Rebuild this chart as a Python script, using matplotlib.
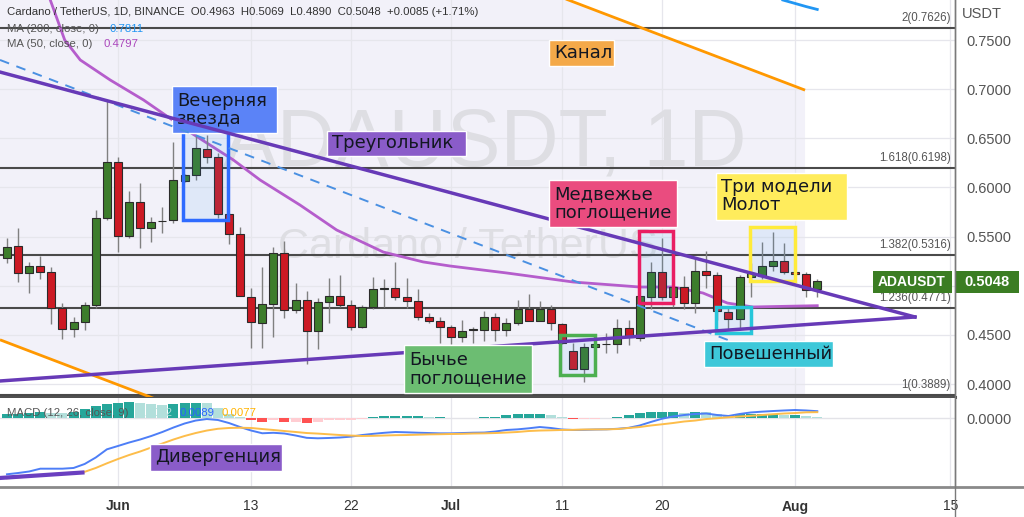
import numpy as np
import matplotlib.pyplot as plt
from matplotlib.patches import Rectangle
from matplotlib.lines import Line2D

plt.rcParams['font.family'] = ['Liberation Sans', 'DejaVu Sans']

W, H = 1024, 517

# day 0 = 1 Jun 2022, daily candles ADA/USDT
days = np.arange(-10, 64)
opens = [0.5279, 0.5404, 0.5127, 0.5204, 0.5137, 0.4771, 0.4557, 0.4634, 0.4801, 0.5686,
         0.6262, 0.5506, 0.5855, 0.5584, 0.5655, 0.5669, 0.6069, 0.6127, 0.6391, 0.6307,
         0.5730, 0.5523, 0.4889, 0.4624, 0.4811, 0.5336, 0.4753, 0.4855, 0.4540, 0.4832,
         0.4899, 0.4804, 0.4583, 0.4781, 0.4970, 0.4974, 0.4883, 0.4845, 0.4685, 0.4644,
         0.4583, 0.4476, 0.4547, 0.4550, 0.4685, 0.4550, 0.4618, 0.4760, 0.4644, 0.4760,
         0.4611, 0.4336, 0.4153, 0.4374, 0.4404, 0.4407, 0.4567, 0.4465, 0.4889, 0.5143,
         0.4889, 0.4984, 0.4821, 0.5153, 0.5106, 0.4736, 0.4662, 0.5092, 0.5099, 0.5204,
         0.5255, 0.5143, 0.5120, 0.4963]
highs = [0.5486, 0.5587, 0.5245, 0.5303, 0.5194, 0.4828, 0.4685, 0.4838, 0.5771, 0.6890,
         0.6313, 0.5964, 0.6042, 0.5702, 0.5804, 0.6465, 0.6140, 0.6534, 0.6534, 0.6347,
         0.5740, 0.5601, 0.4974, 0.5194, 0.5397, 0.5458, 0.5025, 0.4950, 0.4872, 0.5076,
         0.5109, 0.4850, 0.4800, 0.5086, 0.5066, 0.5245, 0.5076, 0.4964, 0.4727, 0.4685,
         0.4600, 0.4652, 0.4580, 0.4746, 0.4720, 0.4670, 0.4855, 0.4916, 0.4840, 0.4800,
         0.4625, 0.4421, 0.4414, 0.4420, 0.4519, 0.4659, 0.4650, 0.4900, 0.5245, 0.5483,
         0.5050, 0.5099, 0.5269, 0.5357, 0.5143, 0.4781, 0.5109, 0.5235, 0.5448, 0.5550,
         0.5432, 0.5160, 0.5143, 0.5069]
lows = [0.5231, 0.5038, 0.4923, 0.5069, 0.4611, 0.4455, 0.4476, 0.4550, 0.4771, 0.5670,
        0.5346, 0.5486, 0.5381, 0.5448, 0.5533, 0.5642, 0.6060, 0.6076, 0.6246, 0.5686,
        0.5422, 0.4896, 0.4364, 0.4364, 0.4482, 0.4669, 0.4720, 0.4204, 0.4357, 0.4618,
        0.4780, 0.4550, 0.4567, 0.4760, 0.4781, 0.4855, 0.4774, 0.4652, 0.4618, 0.4414,
        0.4407, 0.4428, 0.4421, 0.4441, 0.4441, 0.4489, 0.4598, 0.4650, 0.4640, 0.4550,
        0.4407, 0.4153, 0.4024, 0.4350, 0.4313, 0.4313, 0.4400, 0.4440, 0.4760, 0.4855,
        0.4781, 0.4760, 0.4726, 0.4974, 0.4652, 0.4550, 0.4550, 0.4883, 0.5066, 0.5147,
        0.5120, 0.5100, 0.4883, 0.4890]
closes = [0.5397, 0.5127, 0.5204, 0.5137, 0.4771, 0.4557, 0.4634, 0.4801, 0.5686, 0.6262,
          0.5506, 0.5855, 0.5584, 0.5652, 0.5662, 0.6076, 0.6127, 0.6398, 0.6307, 0.5730,
          0.5523, 0.4896, 0.4634, 0.4811, 0.5336, 0.4753, 0.4855, 0.4540, 0.4832, 0.4899,
          0.4804, 0.4577, 0.4781, 0.4964, 0.4974, 0.4883, 0.4845, 0.4679, 0.4644, 0.4583,
          0.4476, 0.4543, 0.4550, 0.4685, 0.4550, 0.4618, 0.4760, 0.4644, 0.4760, 0.4618,
          0.4421, 0.4153, 0.4380, 0.4404, 0.4407, 0.4567, 0.4482, 0.4896, 0.5143, 0.4889,
          0.4984, 0.4821, 0.5153, 0.5106, 0.4746, 0.4662, 0.5092, 0.5133, 0.5204, 0.5255,
          0.5143, 0.5120, 0.4957, 0.5048]

ma50_days = [-6.1, -4.8, -3.4, -0.7, 2.3, 6.6, 10.4, 12.8, 16.4, 19.7, 23.9, 27.5, 29.9,
             35, 41, 47, 50, 52.7, 54.9, 57.2, 63]
ma50 = [0.7907, 0.7500, 0.7297, 0.7093, 0.6890, 0.6554, 0.6279, 0.6076, 0.5821, 0.5567,
        0.5343, 0.5242, 0.5201, 0.5130, 0.5038, 0.4987, 0.4987, 0.4926, 0.4824, 0.4784, 0.4797]
ma200_days = [59.9, 61, 62, 63]
ma200 = [0.7907, 0.7872, 0.7840, 0.7811]

macd = [-0.0700, -0.0684, -0.0665, -0.0630, -0.0630, -0.0630, -0.0621, -0.0571, -0.0490, -0.0388,
        -0.0346, -0.0303, -0.0265, -0.0221, -0.0171, -0.0115, -0.0065, -0.0028, -0.0009, -0.0021,
        -0.0059, -0.0109, -0.0153, -0.0187, -0.0181, -0.0190, -0.0215, -0.0244, -0.0250, -0.0246,
        -0.0240, -0.0229, -0.0209, -0.0194, -0.0181, -0.0171, -0.0175, -0.0180, -0.0184, -0.0188,
        -0.0188, -0.0184, -0.0180, -0.0178, -0.0165, -0.0146, -0.0138, -0.0125, -0.0109, -0.0121,
        -0.0140, -0.0146, -0.0144, -0.0140, -0.0138, -0.0131, -0.0119, -0.0090, -0.0046, -0.0006,
        0.0023, 0.0041, 0.0054, 0.0060, 0.0041, 0.0029, 0.0054, 0.0073, 0.0083, 0.0091,
        0.0098, 0.0104, 0.0098, 0.0089]
signal = [-0.0750, -0.0740, -0.0728, -0.0709, -0.0699, -0.0688, -0.0678, -0.0669, -0.0621, -0.0563,
          -0.0509, -0.0459, -0.0415, -0.0365, -0.0315, -0.0265, -0.0221, -0.0184, -0.0153, -0.0131,
          -0.0121, -0.0118, -0.0121, -0.0134, -0.0146, -0.0159, -0.0171, -0.0184, -0.0191, -0.0200,
          -0.0209, -0.0216, -0.0221, -0.0219, -0.0215, -0.0211, -0.0209, -0.0205, -0.0201, -0.0199,
          -0.0196, -0.0194, -0.0190, -0.0188, -0.0184, -0.0178, -0.0171, -0.0159, -0.0153, -0.0150,
          -0.0146, -0.0144, -0.0140, -0.0139, -0.0138, -0.0134, -0.0121, -0.0109, -0.0090, -0.0075,
          -0.0059, -0.0040, -0.0028, -0.0009, 0.0001, 0.0013, 0.0023, 0.0031, 0.0041, 0.0051,
          0.0060, 0.0066, 0.0075, 0.0077]
hist = [0.0050, 0.0056, 0.0063, 0.0075, 0.0069, 0.0063, 0.0075, 0.0113, 0.0150, 0.0175,
        0.0196, 0.0209, 0.0188, 0.0175, 0.0166, 0.0175, 0.0188, 0.0196, 0.0194, 0.0134,
        0.0050, 0.0013, -0.0021, -0.0046, -0.0021, -0.0046, -0.0046, -0.0063, -0.0041, -0.0025,
        -0.0021, -0.0021, -0.0013, 0.0021, 0.0029, 0.0029, 0.0029, 0.0029, 0.0016, 0.0016,
        0.0004, 0.0009, 0.0009, 0.0021, 0.0021, 0.0038, 0.0050, 0.0050, 0.0050, 0.0041,
        0.0016, -0.0013, -0.0009, -0.0004, 0.0009, 0.0021, 0.0038, 0.0063, 0.0084, 0.0084,
        0.0084, 0.0071, 0.0084, 0.0081, 0.0050, 0.0041, 0.0050, 0.0050, 0.0059, 0.0059,
        0.0041, 0.0041, 0.0029, 0.0016]

fib_levels = [0.7626, 0.6198, 0.5316, 0.4771, 0.3889]
fib_names = ['2', '1.618', '1.382', '1.236', '1']
price_ticks = [0.40, 0.45, 0.50, 0.55, 0.60, 0.65, 0.70, 0.75]
tick_days = [0, 12, 21, 30, 40, 49, 61, 75]
tick_labels = ['Jun', '13', '22', 'Jul', '11', '20', 'Aug', '15']

# drawings
tri_days = [-10.63, 71.8]
tri_upper = [0.7174, 0.4682]
tri_lower = [0.4031, 0.4682]
dash_days = [-10.63, 60.1]
dash_vals = [0.7297, 0.4224]
chan_days = [-10.63, 61.9]
chan_top = [1.011, 0.699]
chan_bot = [0.445, 0.133]
div_days = [-10.63, -3.2]
div_vals = [-0.0746, -0.0678]

# pattern boxes: day from, day to, price low, price high, colour
patterns = [
    (5.83, 9.94, 0.5669, 0.6584, '#2f6bff'),
    (46.9, 50.0, 0.4828, 0.5560, '#e91e63'),
    (39.8, 43.0, 0.4092, 0.4499, '#4caf50'),
    (56.9, 61.0, 0.5051, 0.5595, '#ffeb3b'),
    (53.9, 57.0, 0.4523, 0.4787, '#26c6da'),
]

fig = plt.figure(figsize=(W / 100, H / 100), dpi=100)
fig.patch.set_facecolor('white')

def fx(px):
    return px / W

def fy(py):
    return 1 - py / H

ax = fig.add_axes([0, fy(397), fx(955), 397 / H])
axm = fig.add_axes([0, fy(487), fx(955), 89 / H])

xlim = (-10.63, 75.41)
ax.set_xlim(*xlim)
ax.set_ylim(0.3868, 0.7907)
axm.set_xlim(*xlim)
axm.set_ylim(-0.0859, 0.0254)

# channel fill
ax.fill_between(chan_days, chan_bot, chan_top, color='#f2f1f9', lw=0, zorder=0.2)
ax.plot(chan_days, chan_top, color='#ff9800', lw=2, zorder=4, solid_capstyle='butt')
ax.plot(chan_days, chan_bot, color='#ff9800', lw=2, zorder=4, solid_capstyle='butt')

for a in (ax, axm):
    a.set_xticks(tick_days)
    for d in tick_days:
        a.axvline(d, color='#e6e6ec', lw=0.9, zorder=0.3)
    for s in ('top', 'left'):
        a.spines[s].set_visible(False)
    a.spines['right'].set_color('#7a7a7a')
    a.spines['right'].set_linewidth(1)
    a.yaxis.tick_right()
    a.tick_params(axis='y', length=0, pad=8, labelsize=10.5, labelcolor='#555555')

for p in price_ticks:
    ax.axhline(p, color='#e6e6ec', lw=0.9, zorder=0.3)
ax.set_yticks(price_ticks)
# the last-price tag covers the 0.5000 label
ax.set_yticklabels(['' if abs(p - closes[-1]) < 0.02 else '%.4f' % p for p in price_ticks])
ax.tick_params(axis='x', length=0, labelbottom=False)
ax.spines['bottom'].set_color('#505050')
ax.spines['bottom'].set_linewidth(2.2)

# watermark
ax.text(485 / 955, 1 - 145 / 397, 'ADAUSDT, 1D', transform=ax.transAxes, fontsize=58,
        color='#dedee3', ha='center', va='center', zorder=0.4)
ax.text(468 / 955, 1 - 247 / 397, 'Cardano / TetherUS', transform=ax.transAxes, fontsize=31,
        color='#dedee3', ha='center', va='center', zorder=0.4)

# fibonacci levels
for lev, name in zip(fib_levels, fib_names):
    ax.axhline(lev, color='#4a4a4a', lw=1.5, zorder=1)
    ax.text(75.0, lev + 0.004, '%s(%.4f)' % (name, lev), fontsize=8.3, color='#555555',
            ha='right', va='bottom', zorder=1)

# moving averages
ax.plot(ma50_days, ma50, color='#b55dcc', lw=2, zorder=2)
ax.plot(ma200_days, ma200, color='#2196f3', lw=2, zorder=2)

# candles
for d, o, h, l, c in zip(days, opens, highs, lows, closes):
    up = c >= o
    ax.vlines(d, l, h, color='#808080', lw=1, zorder=3)
    bot = min(o, c)
    ht = max(abs(c - o), 0.0008)
    ax.add_patch(Rectangle((d - 0.36, bot), 0.72, ht, facecolor='#3d7d2c' if up else '#cc1a24',
                           edgecolor='#2b2b2b', lw=0.8, zorder=3.1))

# pattern boxes
for d0, d1, p0, p1, col in patterns:
    ax.add_patch(Rectangle((d0, p0), d1 - d0, p1 - p0, facecolor='#2196f3', alpha=0.09,
                           lw=0, zorder=3.3))
    ax.add_patch(Rectangle((d0, p0), d1 - d0, p1 - p0, fill=False, edgecolor=col,
                           lw=2.5, zorder=3.4))

# triangle and trend line
ax.plot(tri_days, tri_upper, color='#673ab7', lw=2.5, zorder=4.5)
ax.plot(tri_days, tri_lower, color='#673ab7', lw=2.5, zorder=4.5)
ax.plot(dash_days, dash_vals, color='#4a90e2', lw=1.4, ls=(0, (5, 4)), zorder=4.4)

# MACD pane
axm.axhline(0, color='#e3e3e8', lw=1, zorder=0.5)
prev = 0
for d, h in zip(days, hist):
    if h >= 0:
        col = '#26a69a' if h >= prev else '#b2dfdb'
    else:
        col = '#ffcdd2' if h >= prev else '#ff5252'
    axm.bar(d, h, width=0.9, color=col, zorder=1)
    prev = h
axm.plot(days, macd, color='#4d7ef7', lw=1.4, zorder=2)
axm.plot(days, signal, color='#fdbd4a', lw=1.4, zorder=2)
axm.plot(div_days, div_vals, color='#6a3fc0', lw=3, zorder=3)
axm.set_yticks([0])
axm.set_yticklabels(['0.0000'])
axm.set_xticklabels(tick_labels)
axm.tick_params(axis='x', length=0, pad=9, labelsize=10, labelcolor='#333333')
for lbl in axm.get_xticklabels():
    if lbl.get_text() in ('Jun', 'Jul', 'Aug'):
        lbl.set_fontweight('bold')
axm.spines['bottom'].set_visible(False)

fig.add_artist(Line2D([0, 1], [fy(487), fy(487)], color='#8a8a8a', lw=2))
fig.add_artist(Line2D([fx(954.5), fx(954.5)], [0, 1], color='#7a7a7a', lw=1))

# text labels (pixel boxes)
labels = [
    (ax, 'Вечерняя\nзвезда', (172, 86, 277, 133), '#5b83f7', 4.0),
    (ax, 'Треугольник', (327, 131, 466, 156), '#8a5cc9', 6),
    (ax, 'Канал', (549, 40, 614, 66), '#f4a949', 6),
    (ax, 'Медвежье\nпоглощение', (549, 180, 677, 227), '#ea4c7f', 6),
    (ax, 'Три модели\nМолот', (716, 173, 847, 220), '#ffec5c', 6),
    (ax, 'Бычье\nпоглощение', (404, 345, 532, 393), '#6cbd72', 6),
    (ax, 'Повешенный', (704, 341, 833, 367), '#3ec8d9', 6),
    (axm, 'Дивергенция', (150, 444, 282, 471), '#8a5cc9', 6),
]
for a, txt, (x0, y0, x1, y1), col, z in labels:
    a.add_patch(Rectangle((fx(x0), fy(y1)), fx(x1 - x0), (y1 - y0) / H, transform=fig.transFigure,
                          facecolor=col, edgecolor='white', lw=1, clip_on=False, zorder=z))
    a.text(fx(x0 + 5), fy((y0 + y1) / 2), txt, transform=fig.transFigure, fontsize=13,
           family=['DejaVu Sans'], color='#131722', ha='left', va='center', linespacing=1.0,
           clip_on=False, zorder=z + 0.1)

# last price tags
fig.add_artist(Rectangle((fx(873), fy(293)), fx(79), 22 / H, transform=fig.transFigure,
                         facecolor='#3b7d23', edgecolor='none'))
fig.text(fx(912), fy(282), 'ADAUSDT', color='white', fontsize=10, fontweight='bold',
         ha='center', va='center')
fig.add_artist(Rectangle((fx(955), fy(293)), fx(64), 22 / H, transform=fig.transFigure,
                         facecolor='#3b7d23', edgecolor='none'))
fig.text(fx(987), fy(282), '%.4f' % closes[-1], color='white', fontsize=10.5, fontweight='bold',
         ha='center', va='center')
fig.text(fx(962), fy(14), 'USDT', color='#555555', fontsize=10.5, va='center')

# legends
fig.text(fx(7), fy(12), 'Cardano / TetherUS, 1D, BINANCE  O%.4f  H%.4f  L%.4f  C%.4f  +0.0085 (+1.71%%)'
         % (opens[-1], highs[-1], lows[-1], closes[-1]), color='#333333', fontsize=8.2, va='center')
fig.text(fx(7), fy(29), 'MA (200, close, 0)', color='#555555', fontsize=8.2, va='center')
fig.text(fx(109), fy(29), '%.4f' % ma200[-1], color='#2196f3', fontsize=8.2, va='center')
fig.text(fx(7), fy(44), 'MA (50, close, 0)', color='#555555', fontsize=8.2, va='center')
fig.text(fx(103), fy(44), '%.4f' % ma50[-1], color='#ab47bc', fontsize=8.2, va='center')
fig.text(fx(7), fy(413), 'MACD (12, 26, close, 9)', color='#555555', fontsize=8.2, va='center')
fig.text(fx(138), fy(413), '0.0012', color='#b2dfdb', fontsize=8.2, va='center')
fig.text(fx(180), fy(413), '%.4f' % macd[-1], color='#2962ff', fontsize=8.2, va='center')
fig.text(fx(222), fy(413), '%.4f' % signal[-1], color='#ffb300', fontsize=8.2, va='center')

fig.savefig('out.png', dpi=100)
